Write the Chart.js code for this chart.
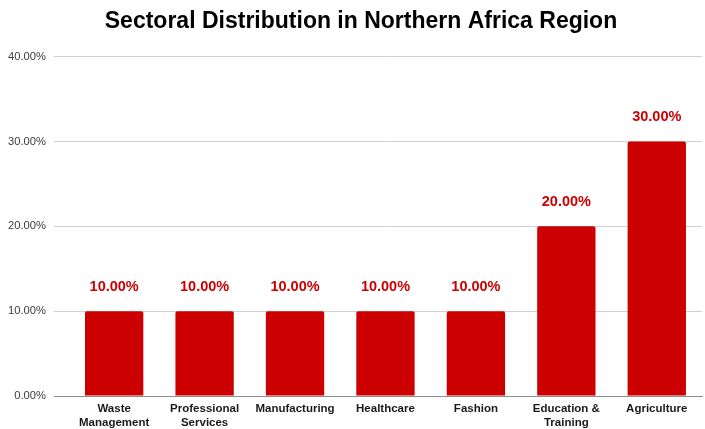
<!DOCTYPE html>
<html>
<head>
<meta charset="utf-8">
<script src="https://cdn.jsdelivr.net/npm/chart.js@4"></script>
<style>
  html, body { margin: 0; padding: 0; background: #fff; }
  #wrap { width: 705px; height: 429px; }
</style>
</head>
<body>
<div id="wrap"><canvas id="sectorChart"></canvas></div>
<script>
// ─── data ───
const sectors = [
  ['Waste', 'Management'],
  ['Professional', 'Services'],
  'Manufacturing',
  'Healthcare',
  'Fashion',
  ['Education &', 'Training'],
  'Agriculture'
];
const shares = [10, 10, 10, 10, 10, 20, 30];
const yTicks = [0, 10, 20, 30, 40];

const barRed = '#cc0000';
const fontFam = "'Liberation Sans', Arial, sans-serif";
const pct = v => v.toFixed(2) + '%';

// value labels above each bar
const barLabels = {
  id: 'barLabels',
  afterDatasetsDraw(chart) {
    const ctx = chart.ctx;
    const meta = chart.getDatasetMeta(0);
    ctx.save();
    ctx.font = 'bold 14.5px ' + fontFam;
    ctx.fillStyle = barRed;
    ctx.textAlign = 'center';
    ctx.textBaseline = 'middle';
    meta.data.forEach((bar, i) => {
      ctx.fillText(pct(shares[i]), bar.x, bar.y - 24);
    });
    ctx.restore();
  }
};

// nudge the title a little to the right of the canvas centre
const titleShift = {
  id: 'titleShift',
  afterLayout(chart) {
    const tb = chart.titleBlock;
    if (tb) { tb.left += 10; tb.right += 10; }
  }
};

new Chart(document.getElementById('sectorChart'), {
  type: 'bar',
  data: {
    labels: sectors,
    datasets: [{
      data: shares,
      backgroundColor: barRed,
      borderRadius: 2,
      borderSkipped: 'bottom',
      categoryPercentage: 1,
      barPercentage: 0.645
    }]
  },
  options: {
    responsive: true, maintainAspectRatio: false,
    animation: false,
    layout: { padding: { left: 0, right: 3, top: 0, bottom: 0 } },
    plugins: {
      legend: { display: false },
      tooltip: { enabled: false },
      title: {
        display: true,
        text: 'Sectoral Distribution in Northern Africa Region',
        color: '#000',
        font: { family: fontFam, size: 23, weight: 'bold' },
        padding: { top: 8, bottom: 21 }
      }
    },
    scales: {
      x: {
        afterFit: s => { s.height = 33; },
        grid: { display: false, drawTicks: false },
        border: { display: true, color: '#8c8c8c', width: 1 },
        ticks: {
          color: '#1a1a1a', maxRotation: 0, autoSkip: false, padding: 6,
          font: { family: fontFam, size: 11.5, weight: 'bold', lineHeight: 1.22 }
        }
      },
      y: {
        min: 0, max: 40,
        afterBuildTicks: axis => { axis.ticks = yTicks.map(v => ({ value: v })); },
        border: { display: false },
        grid: {
          color: c => c.tick && c.tick.value === 0 ? '#8c8c8c' : '#d0d0d0',
          tickLength: 15, drawTicks: true
        },
        ticks: {
          color: '#3c3c3c', padding: 8,
          font: { family: fontFam, size: 11.2 },
          callback: v => pct(v)
        }
      }
    }
  },
  plugins: [barLabels, titleShift]
});
</script>
</body>
</html>
